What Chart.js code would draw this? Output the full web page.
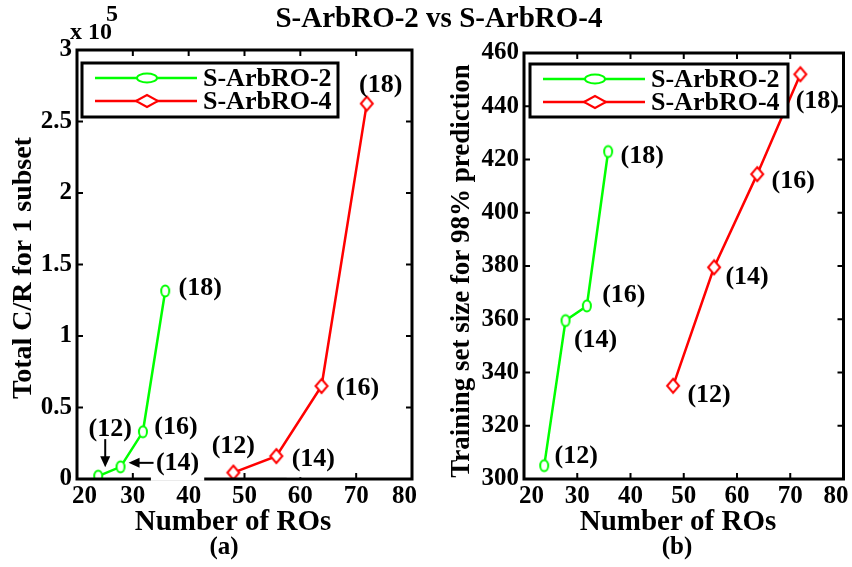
<!DOCTYPE html>
<html lang="en">
<head>
    <meta charset="UTF-8">
    <title>S-ArbRO-2 vs S-ArbRO-4</title>
    <script src="https://cdn.jsdelivr.net/npm/chart.js"></script>
    <style>
        body { margin: 0; background: #fff; }
        #wrap { position: relative; width: 852px; height: 567px; }
        canvas { position: absolute; top: 0; }
        #titulo { position: absolute; left: 0; width: 878px; top: 1px; text-align: center;
                  font: bold 29px "Liberation Serif", "Times New Roman", serif; color: #000; }
    </style>
</head>
<body>
<div id="wrap">
    <canvas id="graficaA" width="426" height="567" style="left:0"></canvas>
    <canvas id="graficaB" width="426" height="567" style="left:426px"></canvas>
    <div id="titulo">S-ArbRO-2 vs S-ArbRO-4</div>
</div>

<script>
    // datos
    var series = ['S-ArbRO-2', 'S-ArbRO-4'];
    var etiquetasN = ['(12)', '(14)', '(16)', '(18)'];
    var rosVerde = [23.8, 27.8, 31.8, 35.8];
    var rosRojo = [48, 55.7, 63.8, 71.9];
    var crVerde = [2000, 8500, 33000, 131500];
    var crRojo = [4500, 16000, 65000, 262500];
    var entrenoVerde = [305, 359.5, 365, 423];
    var entrenoRojo = [335, 379.5, 414.5, 452];
    var ticksX = [20, 30, 40, 50, 60, 70, 80];
    var ticksCR = [0, 50000, 100000, 150000, 200000, 250000, 300000];
    var ticksEntreno = [300, 320, 340, 360, 380, 400, 420, 440, 460];

    var fuente = '"Liberation Serif", "Times New Roman", serif';
    Chart.defaults.font.family = fuente;
    Chart.defaults.font.weight = 'bold';
    Chart.defaults.font.size = 25;
    Chart.defaults.color = '#000';

    // marcadores huecos algo alargados, como en la figura original
    function marcador(tipo, color) {
        var cv = document.createElement('canvas');
        cv.width = 16; cv.height = 18;
        var g = cv.getContext('2d');
        g.strokeStyle = color; g.fillStyle = '#fff'; g.lineWidth = 2;
        g.beginPath();
        if (tipo === 'o') {
            g.ellipse(8, 9, 4, 5.5, 0, 0, Math.PI * 2);
        } else {
            g.moveTo(8, 2); g.lineTo(14, 9); g.lineTo(8, 16); g.lineTo(2, 9); g.closePath();
        }
        g.fill(); g.stroke();
        return cv;
    }

    function puntos(xs, ys) {
        var p = [];
        for (var i = 0; i < xs.length; i++) p.push({ x: xs[i], y: ys[i] });
        return p;
    }

    function serie(nombre, xs, ys, color, tipo) {
        return {
            label: nombre,
            tipo: tipo,
            data: puntos(xs, ys),
            showLine: true,
            borderColor: color,
            borderWidth: 2.5,
            pointStyle: marcador(tipo, color),
            pointRadius: 6
        };
    }

    // marco, ticks hacia dentro, leyenda y anotaciones
    var marco = {
        id: 'marco',
        afterDraw: function (chart) {
            var c = chart.ctx, a = chart.chartArea, o = chart.options.plugins.marco;
            var sx = chart.scales.x, sy = chart.scales.y;
            c.save();
            c.strokeStyle = '#000';
            c.lineWidth = 3;
            c.strokeRect(a.left, a.top, a.right - a.left, a.bottom - a.top);
            c.lineWidth = 2;
            c.beginPath();
            sx.ticks.forEach(function (t) {
                var px = sx.getPixelForValue(t.value);
                c.moveTo(px, a.bottom); c.lineTo(px, a.bottom - 6);
                c.moveTo(px, a.top); c.lineTo(px, a.top + 6);
            });
            sy.ticks.forEach(function (t) {
                var py = sy.getPixelForValue(t.value);
                c.moveTo(a.left, py); c.lineTo(a.left + 6, py);
                c.moveTo(a.right, py); c.lineTo(a.right - 6, py);
            });
            c.stroke();

            // numeros del eje x; el primero y el ultimo quedan dentro del marco
            c.fillStyle = '#000';
            c.font = 'bold 25px ' + fuente;
            c.textBaseline = 'top';
            sx.ticks.forEach(function (t, k) {
                var px = sx.getPixelForValue(t.value);
                if (k === 0) { c.textAlign = 'left'; px = a.left - 5; }
                else if (k === sx.ticks.length - 1) { c.textAlign = 'right'; px = a.right + 5; }
                else c.textAlign = 'center';
                c.fillText(String(t.value), px, a.bottom + 5);
            });

            // etiquetas (12) ... (18), algunas con fondo blanco que tapa lineas
            c.font = 'bold 26px ' + fuente;
            c.textAlign = 'center';
            c.textBaseline = 'middle';
            chart.data.datasets.forEach(function (ds, i) {
                var meta = chart.getDatasetMeta(i);
                meta.data.forEach(function (el, j) {
                    var d = o.desplaz[i][j];
                    var x = el.x + d[0], y = el.y + d[1];
                    if (d[2]) {
                        var w = c.measureText(etiquetasN[j]).width / 2 + 5;
                        c.fillStyle = '#fff';
                        c.fillRect(x - w, y - 13, 2 * w, 31);
                    }
                    c.fillStyle = '#000';
                    c.fillText(etiquetasN[j], x, y);
                });
            });

            // flechas
            c.strokeStyle = '#000';
            c.fillStyle = '#000';
            c.lineWidth = 2;
            (o.flechas || []).forEach(function (f) {
                var el = chart.getDatasetMeta(f.serie).data[f.punto];
                var x1 = el.x + f.desde[0], y1 = el.y + f.desde[1];
                var x2 = el.x + f.hasta[0], y2 = el.y + f.hasta[1];
                var ang = Math.atan2(y2 - y1, x2 - x1);
                c.beginPath();
                c.moveTo(x1, y1); c.lineTo(x2 - 9 * Math.cos(ang), y2 - 9 * Math.sin(ang));
                c.stroke();
                c.beginPath();
                c.moveTo(x2, y2);
                c.lineTo(x2 - 11 * Math.cos(ang) + 5 * Math.sin(ang), y2 - 11 * Math.sin(ang) - 5 * Math.cos(ang));
                c.lineTo(x2 - 11 * Math.cos(ang) - 5 * Math.sin(ang), y2 - 11 * Math.sin(ang) + 5 * Math.cos(ang));
                c.closePath();
                c.fill();
            });

            // leyenda
            var L = o.leyenda;
            c.fillStyle = '#fff';
            c.fillRect(L.x, L.y, L.w, L.h);
            c.strokeStyle = '#000';
            c.lineWidth = 3;
            c.strokeRect(L.x, L.y, L.w, L.h);
            chart.data.datasets.forEach(function (ds, i) {
                var yy = L.y + 15 + i * 23;
                c.strokeStyle = ds.borderColor;
                c.lineWidth = 2.5;
                c.beginPath();
                c.moveTo(L.x + 13, yy); c.lineTo(L.x + 115, yy);
                c.stroke();
                c.lineWidth = 2;
                c.fillStyle = '#fff';
                c.beginPath();
                if (ds.tipo === 'o') {
                    c.ellipse(L.x + 65, yy, 10, 4.5, 0, 0, Math.PI * 2);
                } else {
                    c.moveTo(L.x + 54, yy); c.lineTo(L.x + 65, yy - 6);
                    c.lineTo(L.x + 76, yy); c.lineTo(L.x + 65, yy + 6); c.closePath();
                }
                c.fill(); c.stroke();
                c.fillStyle = '#000';
                c.font = 'bold 26px ' + fuente;
                c.textAlign = 'left';
                c.textBaseline = 'middle';
                c.fillText(ds.label, L.x + 121, yy + 1);
            });

            // titulos de ejes y textos sueltos
            c.fillStyle = '#000';
            c.textAlign = 'center';
            c.textBaseline = 'middle';
            c.font = 'bold 29px ' + fuente;
            c.fillText('Number of ROs', o.xTitulo[0], o.xTitulo[1]);
            c.font = 'bold 25px ' + fuente;
            c.fillText(o.sub[0], o.sub[1], o.sub[2]);
            c.save();
            c.translate(o.yTitulo[1], o.yTitulo[2]);
            c.rotate(-Math.PI / 2);
            c.font = 'bold ' + o.yTitulo[3] + 'px ' + fuente;
            c.fillText(o.yTitulo[0], 0, 0);
            c.restore();
            if (o.exponente) {
                c.font = 'bold 24px ' + fuente;
                c.textAlign = 'left';
                c.textBaseline = 'alphabetic';
                c.fillText('x 10', 70, 39);
                c.fillText('5', 106, 21);
            }
            c.restore();
        }
    };

    function opciones(ticksY, fmt, anchoY, derecha, arriba, extra) {
        return {
            responsive: false,
            animation: false,
            devicePixelRatio: 1,
            layout: { padding: { top: arriba, right: derecha, left: 0, bottom: 0 } },
            scales: {
                x: {
                    type: 'linear', min: 20, max: 80,
                    grid: { display: false, drawTicks: false },
                    border: { display: false },
                    afterBuildTicks: function (s) { s.ticks = ticksX.map(function (v) { return { value: v }; }); },
                    afterFit: function (s) { s.height = 88; s.paddingLeft = 0; s.paddingRight = 0; },
                    ticks: { display: false }
                },
                y: {
                    type: 'linear', min: ticksY[0], max: ticksY[ticksY.length - 1],
                    grid: { display: false, drawTicks: false },
                    border: { display: false },
                    afterBuildTicks: function (s) { s.ticks = ticksY.map(function (v) { return { value: v }; }); },
                    afterFit: function (s) { s.width = anchoY; s.paddingTop = 0; s.paddingBottom = 0; },
                    ticks: { padding: 5, autoSkip: false, callback: fmt }
                }
            },
            plugins: { legend: { display: false }, tooltip: { enabled: false }, marco: extra }
        };
    }

    new Chart(document.getElementById('graficaA'), {
        type: 'scatter',
        data: { datasets: [
            serie(series[0], rosVerde, crVerde, '#00ff00', 'o'),
            serie(series[1], rosRojo, crRojo, '#ff0000', 'd')
        ] },
        options: opciones(ticksCR, function (v) { return String(v / 100000); }, 77, 14, 50, {
            leyenda: { x: 82, y: 63, w: 256, h: 54 },
            desplaz: [[[12, -47], [57, -4, 1], [33, -5, 1], [35, -3]],
                      [[0, -26], [37, 3, 1], [36, 2], [14, -18]]],
            flechas: [{ serie: 0, punto: 0, desde: [7, -37], hasta: [7, -9] },
                      { serie: 0, punto: 1, desde: [33, -4], hasta: [8, -4] }],
            xTitulo: [233, 523],
            sub: ['(a)', 224, 548],
            yTitulo: ['Total C/R for 1 subset', 24, 268, 28],
            exponente: true
        }),
        plugins: [marco]
    });

    new Chart(document.getElementById('graficaB'), {
        type: 'scatter',
        data: { datasets: [
            serie(series[0], rosVerde, entrenoVerde, '#00ff00', 'o'),
            serie(series[1], rosRojo, entrenoRojo, '#ff0000', 'd')
        ] },
        options: opciones(ticksEntreno, function (v) { return String(v); }, 98, 8, 53, {
            leyenda: { x: 104, y: 64, w: 258, h: 53 },
            desplaz: [[[32, -9], [30, 20], [37, -11], [34, 5]],
                      [[36, 9], [33, 10], [36, 7], [17, 27]]],
            xTitulo: [252, 523],
            sub: ['(b)', 251, 548],
            yTitulo: ['Training set size for 98% prediction', 36, 271, 27],
            exponente: false
        }),
        plugins: [marco]
    });
</script>
</body>
</html>
